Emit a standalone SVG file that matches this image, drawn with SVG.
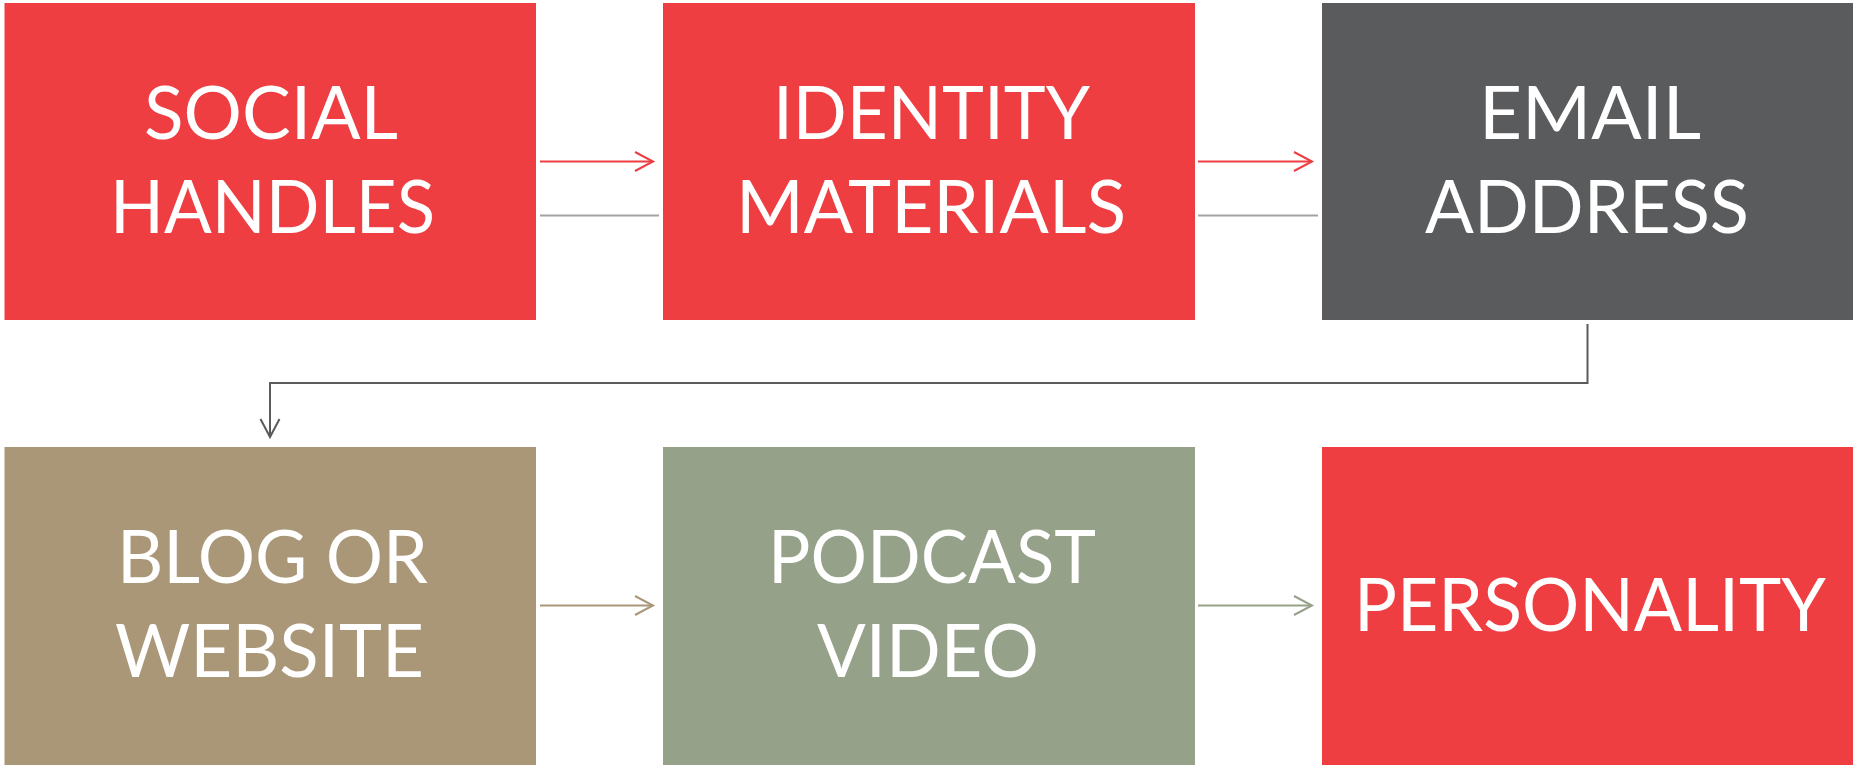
<svg xmlns="http://www.w3.org/2000/svg" width="1853" height="765" viewBox="0 0 1853 765">
  <style>
    .lbl { font-family: Lato, "Open Sans", "Liberation Sans", sans-serif; font-size: 74px; fill: #ffffff; text-anchor: middle; }
    .red { fill: #EF3E42; }
    .dark { fill: #5A5B5D; }
    .tan { fill: #AA9777; }
    .sage { fill: #95A188; }
    .conn { fill: none; stroke-width: 2; }
  </style>
  <defs>
    <marker id="arrRed" markerUnits="userSpaceOnUse" markerWidth="22" markerHeight="24" refX="19" refY="10.5" orient="auto">
      <path d="M1,1 L19,10.5 L1,20" fill="none" stroke="#EF3E42" stroke-width="2"/>
    </marker>
    <marker id="arrDark" markerUnits="userSpaceOnUse" markerWidth="22" markerHeight="24" refX="19" refY="10.5" orient="auto">
      <path d="M1,1 L19,10.5 L1,20" fill="none" stroke="#5A5B5D" stroke-width="2"/>
    </marker>
    <marker id="arrTan" markerUnits="userSpaceOnUse" markerWidth="22" markerHeight="24" refX="19" refY="10.5" orient="auto">
      <path d="M1,1 L19,10.5 L1,20" fill="none" stroke="#AA9777" stroke-width="2"/>
    </marker>
    <marker id="arrSage" markerUnits="userSpaceOnUse" markerWidth="22" markerHeight="24" refX="19" refY="10.5" orient="auto">
      <path d="M1,1 L19,10.5 L1,20" fill="none" stroke="#95A188" stroke-width="2"/>
    </marker>
  </defs>

  <rect width="1853" height="765" fill="#ffffff"/>

  <g id="social-handles">
    <rect class="red" x="4.5" y="3" width="531.5" height="317"/>
    <text class="lbl" x="271" y="139" textLength="254" lengthAdjust="spacingAndGlyphs">SOCIAL</text>
    <text class="lbl" x="272.5" y="233" textLength="325" lengthAdjust="spacingAndGlyphs">HANDLES</text>
  </g>

  <g id="identity-materials">
    <rect class="red" x="663" y="3" width="532" height="317"/>
    <text class="lbl" x="931.5" y="139" textLength="317" lengthAdjust="spacingAndGlyphs">IDENTITY</text>
    <text class="lbl" x="931" y="233" textLength="390" lengthAdjust="spacingAndGlyphs">MATERIALS</text>
  </g>

  <g id="email-address">
    <rect class="dark" x="1322" y="3" width="531" height="317"/>
    <text class="lbl" x="1590" y="139" textLength="222" lengthAdjust="spacingAndGlyphs">EMAIL</text>
    <text class="lbl" x="1587" y="233" textLength="324" lengthAdjust="spacingAndGlyphs">ADDRESS</text>
  </g>

  <g id="blog-website">
    <rect class="tan" x="4.5" y="447" width="531.5" height="318"/>
    <text class="lbl" x="272.5" y="583" textLength="311" lengthAdjust="spacingAndGlyphs">BLOG OR</text>
    <text class="lbl" x="269.5" y="677" textLength="309" lengthAdjust="spacingAndGlyphs">WEBSITE</text>
  </g>

  <g id="podcast-video">
    <rect class="sage" x="663" y="447" width="532" height="318"/>
    <text class="lbl" x="932" y="583" textLength="328" lengthAdjust="spacingAndGlyphs">PODCAST</text>
    <text class="lbl" x="928" y="677" textLength="222" lengthAdjust="spacingAndGlyphs">VIDEO</text>
  </g>

  <g id="personality">
    <rect class="red" x="1322" y="447" width="531" height="318"/>
    <text class="lbl" x="1590" y="631" textLength="472" lengthAdjust="spacingAndGlyphs">PERSONALITY</text>
  </g>

  <g id="connectors">
    <!-- top row: arrow plus plain rule beneath it -->
    <line class="conn" x1="540" y1="161.5" x2="653" y2="161.5" stroke="#EF3E42" marker-end="url(#arrRed)"/>
    <line class="conn" x1="540" y1="215.5" x2="659" y2="215.5" stroke="#A3A3A3"/>
    <line class="conn" x1="1198" y1="161.5" x2="1312" y2="161.5" stroke="#EF3E42" marker-end="url(#arrRed)"/>
    <line class="conn" x1="1198" y1="215.5" x2="1318" y2="215.5" stroke="#A3A3A3"/>
    <!-- elbow from the third box down to the second row -->
    <path class="conn" d="M1587.5,324 L1587.5,383 L270,383 L270,437" stroke="#5A5B5D" marker-end="url(#arrDark)"/>
    <!-- bottom row -->
    <line class="conn" x1="540" y1="605.5" x2="653" y2="605.5" stroke="#AA9777" marker-end="url(#arrTan)"/>
    <line class="conn" x1="1198" y1="605.5" x2="1312" y2="605.5" stroke="#95A188" marker-end="url(#arrSage)"/>
  </g>
</svg>
